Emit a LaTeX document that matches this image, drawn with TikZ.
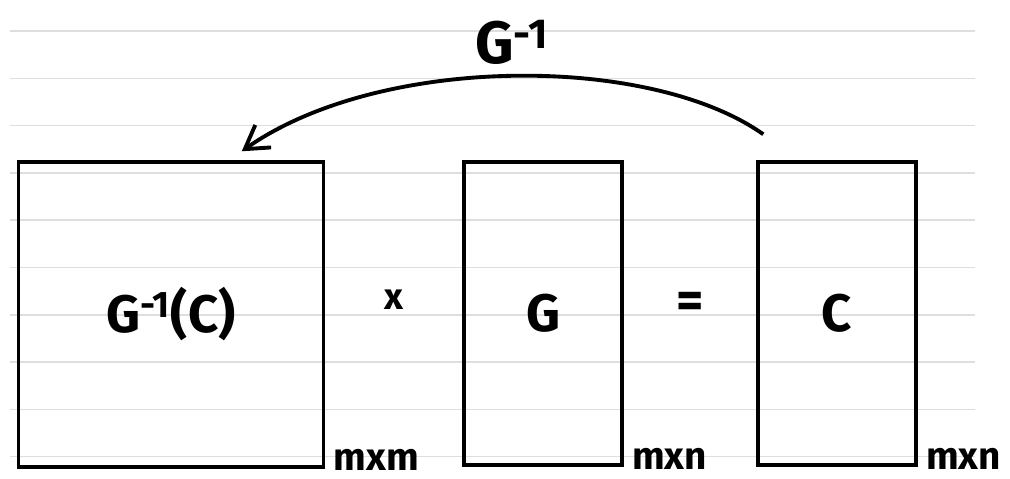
\documentclass[tikz,border=0pt]{standalone}
\usepackage{fontspec}
\setmainfont{Fira Sans}
\usetikzlibrary{arrows.meta,positioning}

\begin{document}
\begin{tikzpicture}[x=0.02cm, y=-0.02cm,
    every node/.style={font=\fontsize{30}{34}\selectfont\bfseries},
    ruled/.style={draw=black!13, line width=0.8pt},
    matbox/.style={draw, line width=2pt, inner sep=0pt},
    dimlabel/.style={anchor=base west, inner sep=0pt, font=\fontsize{22}{24}\selectfont\bfseries},
    oplabel/.style={inner sep=0pt}]
  \useasboundingbox (0,0) rectangle (1010,479);
  % ruled paper
  \foreach \k in {0,...,9}
    \draw[ruled] (10,{31+47.3*\k}) -- (975,{31+47.3*\k});
  % matrices
  \node[matbox, minimum width=6.1cm, minimum height=6.1cm] (ginvc) at (171,314.5) {G\textsuperscript{-1}(C)};
  \node[matbox, minimum width=3.16cm, minimum height=6.06cm] (gmat) at (543,313.5) {G};
  \node[matbox, minimum width=3.16cm, minimum height=6.06cm] (cmat) at (837,313.5) {C};
  \node[oplabel, font=\fontsize{21}{24}\selectfont\bfseries] (times) at (394,300) {x};
  \node[oplabel] (equals) at (690,305) {=};
  % sizes
  \node[dimlabel] (dimginvc) at ([shift={(8,2)}]ginvc.south east) {mxm};
  \node[dimlabel] (dimg) at ([shift={(8,3)}]gmat.south east) {mxn};
  \node[dimlabel] (dimc) at ([shift={(8,3)}]cmat.south east) {mxn};
  % inverse map
  \draw[line width=2.2pt, -{Straight Barb[length=4.5mm, width=5.5mm]}]
    ([shift={(7,-26)}]cmat.north west) .. controls (650,54) and (380,54) ..
    node[pos=0.5, above=2pt, font=\fontsize{34}{38}\selectfont\bfseries] (ginv) {G\textsuperscript{-1}}
    ([shift={(225,-9)}]ginvc.north west);
\end{tikzpicture}
\end{document}
